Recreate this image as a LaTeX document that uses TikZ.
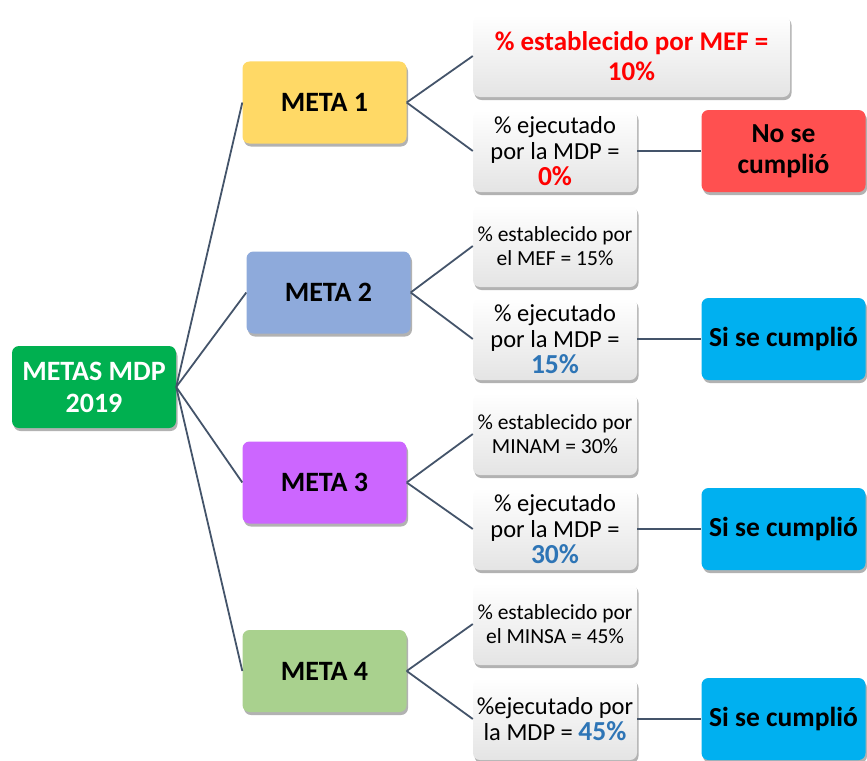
\documentclass[tikz,border=0pt]{standalone}
\usepackage{fontspec}
\setmainfont{Carlito}
\usetikzlibrary{shadows}
\definecolor{rootC}{HTML}{00B050}
\definecolor{m1C}{HTML}{FFD966}
\definecolor{m2C}{HTML}{8EAADB}
\definecolor{m3C}{HTML}{CC66FF}
\definecolor{m4C}{HTML}{A9D18E}
\definecolor{noC}{HTML}{FF5050}
\definecolor{siC}{HTML}{00B0F0}
\definecolor{redT}{HTML}{FF0000}
\definecolor{blueT}{HTML}{2E75B6}
\definecolor{lineC}{HTML}{44546A}
\definecolor{shadeC}{HTML}{E4E4E4}
\tikzset{
  box/.style={rectangle, rounded corners=7pt, minimum width=164pt, minimum height=82pt,
    inner sep=0pt, align=center,
    drop shadow={shadow xshift=1.5pt, shadow yshift=-3pt, opacity=0.3, fill=black}},
  metabox/.style={box, font=\bfseries\fontsize{28}{32}\selectfont},
  wbox/.style={box, top color=white, bottom color=shadeC, font=\fontsize{24.5}{26}\selectfont},
  sbox/.style={wbox, font=\fontsize{21.5}{24}\selectfont},
  resbox/.style={box, font=\bfseries\fontsize{27.5}{31}\selectfont},
  link/.style={draw=lineC, line width=1.8pt}
}
\newcommand{\bignum}[2]{{\bfseries\fontsize{27.5}{31}\selectfont\textcolor{#1}{#2}}}
\begin{document}
\begin{tikzpicture}[x=1pt,y=-1pt]
\useasboundingbox (0,0) rectangle (867,760);
% root
\node[metabox, fill=rootC, text=white] (root) at (94,387) {METAS MDP\\2019};
% metas
\node[metabox, fill=m1C] (m1) at (324.5,102.5) {META 1};
\node[metabox, fill=m2C] (m2) at (328.5,292.5) {META 2};
\node[metabox, fill=m3C] (m3) at (324.5,482.5) {META 3};
\node[metabox, fill=m4C] (m4) at (324.5,671) {META 4};
% established
\node[wbox, minimum width=317pt, text=redT, font=\bfseries\fontsize{27}{30}\selectfont] (e1) at (631.5,56) {\% establecido por MEF =\\10\%};
\node[sbox] (e2) at (555,246) {\% establecido por\\el MEF = 15\%};
\node[sbox] (e3) at (555,434) {\% establecido por\\MINAM = 30\%};
\node[sbox] (e4) at (555,624) {\% establecido por\\el MINSA = 45\%};
% executed
\node[wbox] (x1) at (555,151) {\% ejecutado\\por la MDP =\\\bignum{redT}{0\%}};
\node[wbox] (x2) at (555,339) {\% ejecutado\\por la MDP =\\\bignum{blueT}{15\%}};
\node[wbox] (x3) at (555,529) {\% ejecutado\\por la MDP =\\\bignum{blueT}{30\%}};
\node[wbox] (x4) at (555,719) {\%ejecutado por\\la MDP = \bignum{blueT}{45\%}};
% results
\node[resbox, fill=noC] (r1) at (783.5,151) {No se\\cumplió};
\node[resbox, fill=siC] (r2) at (783.5,339) {Si se cumplió};
\node[resbox, fill=siC] (r3) at (783.5,529) {Si se cumplió};
\node[resbox, fill=siC] (r4) at (783.5,719) {Si se cumplió};
% connectors
\foreach \i in {1,2,3,4}{
  \draw[link] (root.east) -- (m\i.west);
  \draw[link] (m\i.east) -- (e\i.west);
  \draw[link] (m\i.east) -- (x\i.west);
  \draw[link] (x\i.east) -- (r\i.west);
}
\end{tikzpicture}
\end{document}
